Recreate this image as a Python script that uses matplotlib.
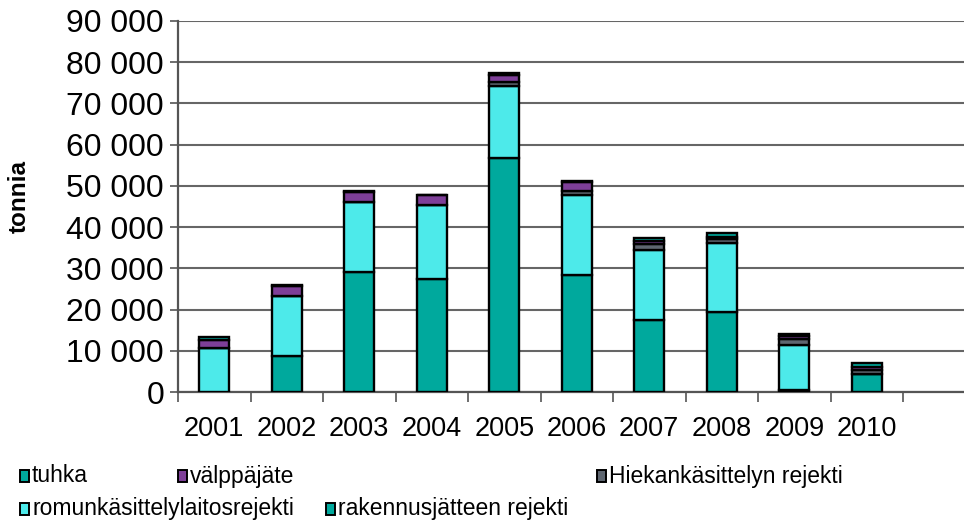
import numpy as np
import matplotlib
matplotlib.use("Agg")
import matplotlib.pyplot as plt
from matplotlib.patches import Rectangle
from matplotlib.ticker import FuncFormatter, MultipleLocator

plt.rcParams["font.family"] = ["Liberation Sans", "DejaVu Sans"]

years = ["2001", "2002", "2003", "2004", "2005", "2006", "2007", "2008", "2009", "2010"]

# tonnia per vuosi, pinottu alhaalta ylös
rakennusjate = [0, 8700, 29100, 27400, 56800, 28300, 17500, 19400, 600, 4300]
romunkasittely = [10600, 14500, 17000, 18000, 17400, 19500, 16900, 16700, 10800, 0]
hiekankasittely = [0, 0, 0, 0, 1000, 1000, 1500, 1000, 1500, 1000]
valppajate = [1900, 2500, 2400, 2400, 1800, 2200, 800, 600, 700, 700]
tuhka = [800, 200, 200, 100, 300, 300, 700, 800, 500, 1000]

series = [
    ("rakennusjätteen rejekti", rakennusjate, "#00a99d"),
    ("romunkäsittelylaitosrejekti", romunkasittely, "#4deaea"),
    ("Hiekankäsittelyn rejekti", hiekankasittely, "#5e6670"),
    ("välppäjäte", valppajate, "#7e3f98"),
    ("tuhka", tuhka, "#00a99d"),
]

fig = plt.figure(figsize=(9.64, 5.24), dpi=100)
W, H = 964, 524
ax = fig.add_axes([178 / W, 132 / H, 797.5 / W, 371 / H])

x = np.arange(len(years))
bottom = np.zeros(len(years))
for name, vals, col in series:
    ax.bar(x, vals, width=0.41, bottom=bottom, color=col,
           edgecolor="black", linewidth=1.7, zorder=3)
    bottom += np.array(vals)

ax.set_xlim(-0.5, 10.5)
ax.set_ylim(0, 90000)
ax.yaxis.set_major_locator(MultipleLocator(10000))
ax.yaxis.set_major_formatter(FuncFormatter(lambda v, p: f"{int(v):,}".replace(",", " ")))
ax.grid(axis="y", color="#666666", linewidth=1.5, zorder=0)
ax.set_axisbelow(True)

# category boundaries carry the ticks, labels sit in the middle
ax.set_xticks(np.arange(-0.5, 11, 1.0))
ax.set_xticklabels([])
ax.set_xticks(x, minor=True)
ax.set_xticklabels(years, minor=True, fontsize=19.5)
ax.tick_params(axis="x", which="major", length=7, width=1.2, color="#555555", direction="out")
ax.tick_params(axis="x", which="minor", length=0, pad=17)
ax.tick_params(axis="y", length=6, width=1.2, color="#555555", labelsize=23, pad=4)

for s in ["top", "right"]:
    ax.spines[s].set_visible(False)
for s in ["left", "bottom"]:
    ax.spines[s].set_color("#555555")
    ax.spines[s].set_linewidth(1.6)

fig.text(19 / W, 1 - 196 / H, "tonnia", rotation=90, fontsize=17.5, fontweight="bold",
         ha="center", va="center")

# legend drawn entry by entry
legend_items = [
    ("tuhka", "#00a99d", 20, 476),
    ("välppäjäte", "#7e3f98", 178, 476),
    ("Hiekankäsittelyn rejekti", "#5e6670", 597, 476),
    ("romunkäsittelylaitosrejekti", "#4deaea", 20, 509),
    ("rakennusjätteen rejekti", "#00a99d", 326, 509),
]
for label, col, px, py in legend_items:
    fig.patches.append(Rectangle((px / W, 1 - (py + 6) / H), 9 / W, 12 / H,
                                 facecolor=col, edgecolor="black", linewidth=1.4,
                                 transform=fig.transFigure, figure=fig))
    fig.text((px + 12) / W, 1 - py / H, label, fontsize=16.5, ha="left", va="center")

fig.savefig("out.png", dpi=100)
